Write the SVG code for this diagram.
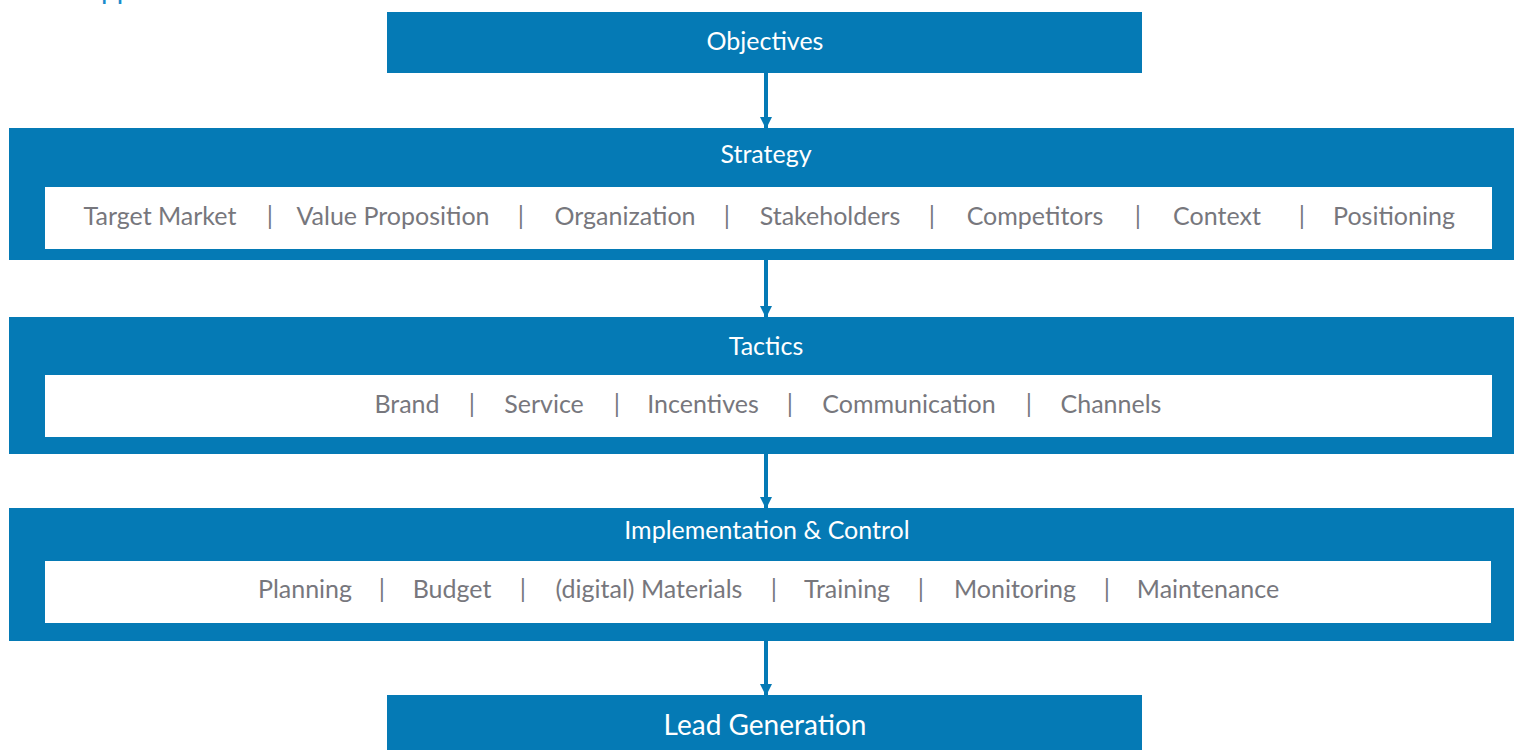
<svg xmlns="http://www.w3.org/2000/svg" width="1514" height="750" viewBox="0 0 1514 750">
<defs>
<style>
.box{fill:#057ab5}
.inner{fill:#ffffff}
.title{font-family:Lato,"Liberation Sans",sans-serif;fill:#ffffff;font-size:25px;text-anchor:middle}
.item{font-family:Lato,"Liberation Sans",sans-serif;fill:#77777d;font-size:25px;text-anchor:middle}
.conn{stroke:#057ab5;stroke-width:4;fill:none}
</style>
<marker id="ah" markerUnits="userSpaceOnUse" markerWidth="12" markerHeight="14" refX="11" refY="6" orient="auto" viewBox="0 0 12 12">
<path d="M0,0 L12,6 L0,12 Z" fill="#057ab5"/>
</marker>
</defs>
<rect width="1514" height="750" fill="#ffffff"/>
<text x="101" y="-1" style="font-family:Lato,'Liberation Sans',sans-serif;font-size:28px;fill:#1a8ccb">pp</text>
<g id="connectors">
<line class="conn" x1="766" y1="73" x2="766" y2="128" marker-end="url(#ah)"/>
<line class="conn" x1="766" y1="260" x2="766" y2="317" marker-end="url(#ah)"/>
<line class="conn" x1="766" y1="454" x2="766" y2="508" marker-end="url(#ah)"/>
<line class="conn" x1="766" y1="641" x2="766" y2="695" marker-end="url(#ah)"/>
</g>
<g id="objectives">
<rect class="box" x="387" y="12" width="755" height="61"/>
<text class="title" x="765" y="50">Objectives</text>
</g>
<g id="strategy">
<rect class="box" x="9" y="128" width="1510" height="132"/>
<rect class="inner" x="45" y="187" width="1447" height="62"/>
<text class="title" x="766" y="163">Strategy</text>
<text class="item" x="160" y="225">Target Market</text>
<text class="item" x="270" y="225">|</text>
<text class="item" x="393" y="225">Value Proposition</text>
<text class="item" x="521" y="225">|</text>
<text class="item" x="625" y="225">Organization</text>
<text class="item" x="727" y="225">|</text>
<text class="item" x="830" y="225">Stakeholders</text>
<text class="item" x="932" y="225">|</text>
<text class="item" x="1035" y="225">Competitors</text>
<text class="item" x="1138" y="225">|</text>
<text class="item" x="1217" y="225">Context</text>
<text class="item" x="1302" y="225">|</text>
<text class="item" x="1394" y="225">Positioning</text>
</g>
<g id="tactics">
<rect class="box" x="9" y="317" width="1510" height="137"/>
<rect class="inner" x="45" y="375" width="1447" height="62"/>
<text class="title" x="766" y="355">Tactics</text>
<text class="item" x="407" y="413">Brand</text>
<text class="item" x="472" y="413">|</text>
<text class="item" x="544" y="413">Service</text>
<text class="item" x="617" y="413">|</text>
<text class="item" x="703" y="413">Incentives</text>
<text class="item" x="790" y="413">|</text>
<text class="item" x="909" y="413">Communication</text>
<text class="item" x="1029" y="413">|</text>
<text class="item" x="1111" y="413">Channels</text>
</g>
<g id="implementation">
<rect class="box" x="9" y="508" width="1510" height="133"/>
<rect class="inner" x="45" y="561" width="1446" height="62"/>
<text class="title" x="767" y="539">Implementation &amp; Control</text>
<text class="item" x="305" y="598">Planning</text>
<text class="item" x="382" y="598">|</text>
<text class="item" x="452" y="598">Budget</text>
<text class="item" x="523" y="598">|</text>
<text class="item" x="649" y="598">(digital) Materials</text>
<text class="item" x="774" y="598">|</text>
<text class="item" x="847" y="598">Training</text>
<text class="item" x="921" y="598">|</text>
<text class="item" x="1015" y="598">Monitoring</text>
<text class="item" x="1107" y="598">|</text>
<text class="item" x="1208" y="598">Maintenance</text>
</g>
<g id="lead-generation">
<rect class="box" x="387" y="695" width="755" height="60"/>
<text class="title" x="765" y="735" style="font-size:28px">Lead Generation</text>
</g>
</svg>
